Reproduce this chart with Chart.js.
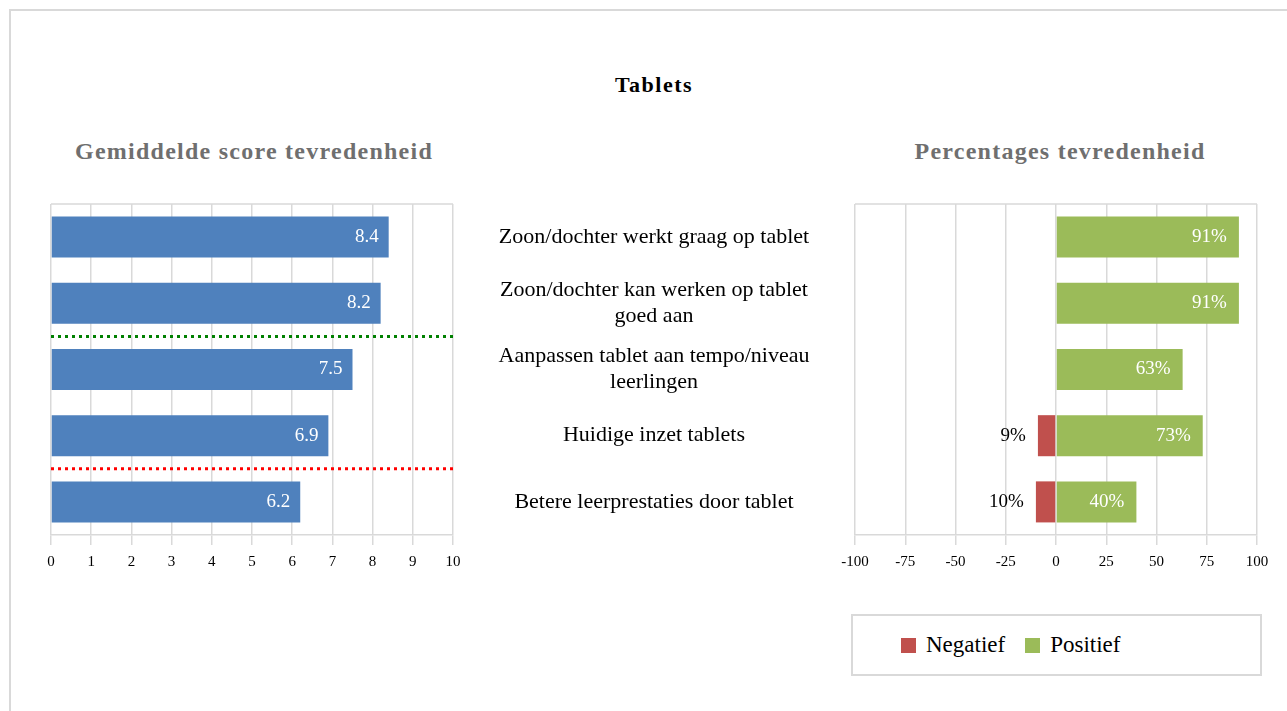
<!DOCTYPE html>
<html lang="nl">
<head>
<meta charset="utf-8">
<title>Tablets</title>
<script src="https://cdn.jsdelivr.net/npm/chart.js@4.4.1/dist/chart.umd.min.js"></script>
<style>
    html, body { margin: 0; padding: 0; background: #fff; overflow: hidden; }
    body { width: 1287px; height: 711px; position: relative; font-family: "Liberation Serif", "Times New Roman", serif; }
    #frame { position: absolute; left: 9px; top: 9px; width: 1300px; height: 720px; border: 2px solid #d9d9d9; }
    .title { position: absolute; transform: translate(-50%, -50%); white-space: nowrap; font-weight: bold; }
    #mainTitle { left: 654px; top: 85px; font-size: 22px; letter-spacing: 1.5px; color: #000; }
    .sub { top: 151px; font-size: 24px; letter-spacing: 1.25px; color: #6f6f6f; }
    #sub1 { left: 254px; }
    #sub2 { left: 1060px; }
    canvas { position: absolute; top: 0; }
    #scoreChart { left: 0; }
    #pctChart { left: 830px; }
    #legend { position: absolute; left: 851px; top: 614px; width: 411px; height: 62px; box-sizing: border-box;
              border: 2px solid #d9d9d9; display: flex; align-items: center; padding-left: 48px; font-size: 23px; color: #000; }
    .item { display: flex; align-items: center; margin-right: 20px; }
    .swatch { width: 15px; height: 15px; margin-right: 10px; }
</style>
</head>
<body>
<div id="frame"></div>
<div id="mainTitle" class="title">Tablets</div>
<div id="sub1" class="title sub">Gemiddelde score tevredenheid</div>
<div id="sub2" class="title sub">Percentages tevredenheid</div>
<canvas id="scoreChart" width="855" height="575"></canvas>
<canvas id="pctChart" width="457" height="575"></canvas>
<div id="legend"></div>

<script>
// --- data ---
const categories = [
    'Zoon/dochter werkt graag op tablet',
    ['Zoon/dochter kan werken op tablet', 'goed aan'],
    ['Aanpassen tablet aan tempo/niveau', 'leerlingen'],
    'Huidige inzet tablets',
    'Betere leerprestaties door tablet'
];
const scores = [8.4, 8.2, 7.5, 6.9, 6.2];
const negatief = [0, 0, 0, 9, 10];
const positief = [91, 91, 63, 73, 40];
const scoreTicks = [0, 1, 2, 3, 4, 5, 6, 7, 8, 9, 10];
const pctTicks = [-100, -75, -50, -25, 0, 25, 50, 75, 100];
// dotted norm lines sit below these category indexes
const normLines = [1, 3];

const BLUE = '#4f81bd';
const GREEN = '#9bbb59';
const RED = '#c0504d';
const GRID = '#d9d9d9';
const SERIF = '"Liberation Serif", "Times New Roman", serif';

Chart.defaults.font.family = SERIF;
Chart.defaults.color = '#000';

// center the middle labels at x=654 (left plot ends at 453)
const mctx = document.createElement('canvas').getContext('2d');
mctx.font = '22px ' + SERIF;
const widest = Math.max(...categories.flat().map(s => mctx.measureText(s).width));
const labelPad = 654 - 453 - widest / 2;

// top edge of the plot area
const plotTop = {
    id: 'plotTop',
    beforeDatasetsDraw(chart) {
        const { ctx, chartArea: a } = chart;
        ctx.save();
        ctx.strokeStyle = GRID;
        ctx.lineWidth = 1.5;
        ctx.beginPath();
        ctx.moveTo(a.left, a.top);
        ctx.lineTo(a.right, a.top);
        ctx.stroke();
        ctx.restore();
    }
};

const dottedLines = {
    id: 'dottedLines',
    afterDatasetsDraw(chart, args, opts) {
        const { ctx, chartArea: a } = chart;
        const y = chart.scales.y;
        ctx.save();
        ctx.lineWidth = 3;
        ctx.setLineDash([3, 4]);
        normLines.forEach((idx, k) => {
            const py = (y.getPixelForValue(idx) + y.getPixelForValue(idx + 1)) / 2;
            ctx.strokeStyle = opts.colors[k];
            ctx.beginPath();
            ctx.moveTo(a.left, py);
            ctx.lineTo(a.right, py);
            ctx.stroke();
        });
        ctx.restore();
    }
};

// value labels right-aligned just before the bar's value end
const valueLabels = {
    id: 'valueLabels',
    afterDatasetsDraw(chart, args, opts) {
        const ctx = chart.ctx;
        ctx.save();
        ctx.font = opts.size + 'px ' + SERIF;
        ctx.textBaseline = 'middle';
        ctx.textAlign = 'right';
        chart.data.datasets.forEach((ds, i) => {
            const style = opts.styles[i];
            chart.getDatasetMeta(i).data.forEach((bar, j) => {
                const v = ds.data[j];
                if (v == null) return;
                ctx.fillStyle = style.color;
                ctx.fillText(style.format(v), bar.x - opts.gap, bar.y);
            });
        });
        ctx.restore();
    }
};

const htmlLegend = {
    id: 'htmlLegend',
    afterUpdate(chart, args, opts) {
        const box = document.getElementById(opts.containerID);
        box.innerHTML = '';
        const items = chart.options.plugins.legend.labels.generateLabels(chart);
        items.forEach(item => {
            const el = document.createElement('div');
            el.className = 'item';
            const sw = document.createElement('span');
            sw.className = 'swatch';
            sw.style.background = item.fillStyle;
            const tx = document.createElement('span');
            tx.textContent = item.text;
            el.appendChild(sw);
            el.appendChild(tx);
            box.appendChild(el);
        });
    }
};

function xScale(ticks, min, max) {
    return {
        min: min,
        max: max,
        afterBuildTicks: s => { s.ticks = ticks.map(v => ({ value: v })); },
        afterFit: s => { s.height = 40; },
        grid: { color: GRID, lineWidth: 1.5, tickLength: 10 },
        border: { color: GRID, width: 1.5 },
        ticks: { font: { size: 15 }, color: '#000', padding: 8, callback: v => String(v) }
    };
}

new Chart(document.getElementById('scoreChart'), {
    type: 'bar',
    data: {
        labels: categories,
        datasets: [{
            label: 'Gemiddelde score',
            data: scores,
            backgroundColor: BLUE,
            barPercentage: 0.62,
            categoryPercentage: 1
        }]
    },
    options: {
        indexAxis: 'y',
        responsive: false,
        animation: false,
        layout: { padding: { left: 51, top: 204, right: 0, bottom: 0 } },
        plugins: {
            legend: { display: false },
            tooltip: { enabled: false },
            dottedLines: { colors: ['#008000', '#ff0000'] },
            valueLabels: {
                size: 19, gap: 10,
                styles: [{ color: '#fff', format: v => v.toFixed(1) }]
            }
        },
        scales: {
            x: xScale(scoreTicks, 0, 10),
            y: {
                position: 'right',
                afterFit: s => {
                    s.width = 402;
                    // labels may overhang; keep the plot height the same as the right chart
                    s.paddingTop = 0;
                    s.paddingBottom = 0;
                },
                grid: { display: false, drawTicks: false },
                border: { display: false },
                ticks: {
                    crossAlign: 'center',
                    padding: labelPad,
                    autoSkip: false,
                    color: '#000',
                    font: { size: 22, lineHeight: 1.2 }
                }
            }
        }
    },
    plugins: [plotTop, dottedLines, valueLabels]
});

new Chart(document.getElementById('pctChart'), {
    type: 'bar',
    data: {
        labels: categories,
        datasets: [{
            label: 'Negatief',
            data: negatief.map(v => v ? -v : null),
            backgroundColor: RED,
            barPercentage: 0.62,
            categoryPercentage: 1
        }, {
            label: 'Positief',
            data: positief,
            backgroundColor: GREEN,
            barPercentage: 0.62,
            categoryPercentage: 1
        }]
    },
    options: {
        indexAxis: 'y',
        responsive: false,
        animation: false,
        layout: { padding: { left: 25, top: 204, right: 30, bottom: 0 } },
        plugins: {
            legend: { display: false },
            tooltip: { enabled: false },
            htmlLegend: { containerID: 'legend' },
            valueLabels: {
                size: 19, gap: 12,
                styles: [
                    { color: '#000', format: v => Math.abs(v) + '%' },
                    { color: '#fff', format: v => v + '%' }
                ]
            }
        },
        scales: {
            x: Object.assign(xScale(pctTicks, -100, 100), { stacked: true }),
            y: { stacked: true, display: false }
        }
    },
    plugins: [plotTop, valueLabels, htmlLegend]
});
</script>
</body>
</html>
